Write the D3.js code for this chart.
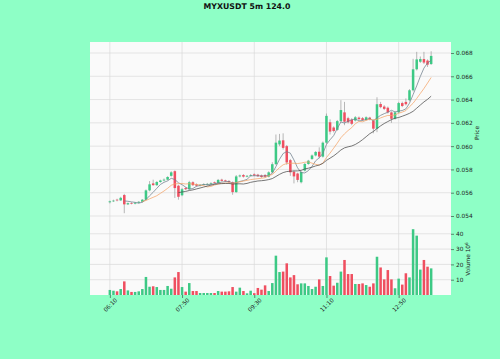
<!DOCTYPE html>
<html>
<head>
<meta charset="utf-8">
<script src="https://cdn.jsdelivr.net/npm/d3@7"></script>
<style>
  body { margin: 0; background: #8effc6; }
  svg { display: block; font-family: "DejaVu Sans", sans-serif; }
</style>
</head>
<body>
<svg id="chart" width="500" height="359"></svg>
<script>
// 5 minute candles, first one at 06:10
var startTime = "06:10";
var stepMinutes = 5;
var opens  = [.05518,.05526,.05540,.05534,.05580,.05500,.05512,.05506,.05514,.05522,
              .05540,.05620,.05680,.05665,.05692,.05705,.05712,.05745,.05785,.05660,
              .05578,.05640,.05630,.05690,.05672,.05660,.05668,.05670,.05676,.05690,
              .05684,.05712,.05706,.05700,.05690,.05605,.05740,.05752,.05738,.05745,
              .05758,.05755,.05748,.05752,.05738,.05775,.05845,.06015,.06050,.06000,
              .05880,.05780,.05765,.05690,.05790,.05847,.05890,.05920,.05952,.05910,
              .06030,.06205,.06160,.06140,.06215,.06290,.06240,.06228,.06220,.06245,
              .06240,.06225,.06245,.06220,.06150,.06362,.06340,.06330,.06290,.06235,
              .06290,.06370,.06380,.06395,.06480,.06660,.06725,.06748,.06735,.06705];
var highs  = [.05532,.05540,.05548,.05565,.05590,.05516,.05518,.05520,.05528,.05546,
              .05628,.05700,.05712,.05700,.05712,.05722,.05742,.05785,.05792,.05668,
              .05640,.05648,.05702,.05698,.05680,.05674,.05680,.05684,.05690,.05696,
              .05718,.05720,.05712,.05708,.05696,.05752,.05756,.05760,.05752,.05760,
              .05766,.05762,.05756,.05760,.05784,.05862,.06100,.06105,.06110,.06010,
              .05890,.05792,.05772,.05785,.05855,.05882,.05928,.05958,.05990,.06040,
              .06280,.06230,.06170,.06225,.06395,.06380,.06252,.06240,.06258,.06255,
              .06250,.06256,.06252,.06230,.06420,.06380,.06352,.06340,.06300,.06298,
              .06380,.06382,.06410,.06490,.06750,.06810,.06770,.06810,.06745,.06815];
var lows   = [.05508,.05520,.05526,.05530,.05424,.05494,.05500,.05500,.05508,.05516,
              .05536,.05612,.05660,.05658,.05686,.05698,.05706,.05738,.05555,.05540,
              .05570,.05622,.05625,.05658,.05652,.05654,.05662,.05664,.05670,.05678,
              .05680,.05696,.05692,.05684,.05582,.05600,.05732,.05730,.05732,.05740,
              .05742,.05736,.05728,.05730,.05732,.05768,.05840,.06000,.05970,.05840,
              .05745,.05680,.05690,.05680,.05782,.05840,.05882,.05912,.05895,.05902,
              .06020,.06100,.06118,.06132,.06208,.06180,.06195,.06180,.06212,.06225,
              .06218,.06218,.06222,.06110,.06120,.06325,.06310,.06280,.06200,.06228,
              .06282,.06335,.06350,.06385,.06470,.06650,.06715,.06705,.06680,.06698];
var closes = [.05526,.05532,.05534,.05556,.05500,.05510,.05506,.05514,.05522,.05540,
              .05620,.05672,.05665,.05692,.05705,.05712,.05735,.05775,.05640,.05565,
              .05630,.05630,.05690,.05665,.05660,.05668,.05674,.05676,.05682,.05684,
              .05710,.05702,.05698,.05690,.05605,.05740,.05748,.05738,.05745,.05752,
              .05748,.05742,.05735,.05738,.05775,.05845,.06030,.06048,.05985,.05860,
              .05775,.05740,.05710,.05778,.05847,.05875,.05920,.05950,.05910,.06030,
              .06260,.06125,.06130,.06215,.06310,.06210,.06205,.06192,.06248,.06232,
              .06225,.06248,.06230,.06150,.06360,.06335,.06320,.06290,.06235,.06290,
              .06370,.06345,.06360,.06480,.06660,.06745,.06748,.06718,.06700,.06775];
// volume in millions
var volumes = [3.3,2.8,2.4,3.9,8.9,3.0,2.0,2.0,2.4,3.9,
               11.8,5.4,5.7,5.2,3.3,3.3,5.9,4.1,11.5,15.0,
               5.2,2.2,7.8,2.6,2.6,1.3,1.3,1.3,1.3,1.3,
               2.6,2.2,2.2,2.4,5.2,2.2,4.8,2.6,1.1,2.8,
               1.2,4.6,3.5,6.3,2.6,7.8,25.7,15.0,15.3,20.7,
               11.5,13.0,7.0,7.6,7.6,5.9,3.9,5.4,10.2,5.9,
               24.6,12.4,6.1,8.0,15.3,22.9,13.7,13.7,7.2,7.2,
               7.6,6.5,5.4,7.6,25.0,18.0,10.2,16.3,10.2,4.4,
               10.7,6.8,14.2,11.5,43.0,38.8,16.6,22.9,18.5,17.4];
var mavPeriods = [5, 10, 20];
var mavColors = ["#6f7f8c", "#f4a468", "#4b4b4b"];
var tickLabels = ["06:10", "07:50", "09:30", "11:10", "12:50"];
var priceTicks = [0.054, 0.056, 0.058, 0.060, 0.062, 0.064, 0.066, 0.068];
var volTicks = [10, 20, 30, 40];
var title = "MYXUSDT 5m 124.0";

var upColor = "#3dc985", downColor = "#ef4f60", wickColor = "#8a8a8a";
var left = 90, right = 451, priceTop = 42, split = 224, bottom = 295;
var n = closes.length;

var svg = d3.select("#chart");

var parseT = d3.timeParse("%H:%M"), fmtT = d3.timeFormat("%H:%M");
var t0 = parseT(startTime);
var times = d3.range(n).map(function(i){ return fmtT(d3.timeMinute.offset(t0, i * stepMinutes)); });
var tickIdx = tickLabels.map(function(l){ return times.indexOf(l); });

var x = d3.scaleLinear().domain([-5.5, n + 4.5]).range([left, right]);
var yP = d3.scaleLinear().domain([0.053313, 0.068945]).range([split, priceTop]);
var yV = d3.scaleLinear().domain([0, 46.4]).range([bottom, split]);
var slot = x(1) - x(0);

// panels
svg.append("rect").attr("x", left).attr("y", priceTop)
   .attr("width", right - left).attr("height", bottom - priceTop).attr("fill", "#fafafa");

var grid = svg.append("g").attr("stroke", "#dadada").attr("stroke-width", 0.7);
grid.selectAll(".gx").data(tickIdx).enter().append("line")
   .attr("x1", function(d){ return x(d); }).attr("x2", function(d){ return x(d); })
   .attr("y1", priceTop).attr("y2", bottom);
grid.selectAll(".gp").data(priceTicks).enter().append("line")
   .attr("x1", left).attr("x2", right)
   .attr("y1", function(d){ return yP(d); }).attr("y2", function(d){ return yP(d); });
grid.selectAll(".gv").data(volTicks).enter().append("line")
   .attr("x1", left).attr("x2", right)
   .attr("y1", function(d){ return yV(d); }).attr("y2", function(d){ return yV(d); });

// candles
var bodyW = slot * 0.7;
var candles = svg.append("g");
candles.selectAll("line").data(d3.range(n)).enter().append("line")
   .attr("x1", function(i){ return x(i); }).attr("x2", function(i){ return x(i); })
   .attr("y1", function(i){ return yP(highs[i]); }).attr("y2", function(i){ return yP(lows[i]); })
   .attr("stroke", wickColor).attr("stroke-width", 0.6);
candles.selectAll("rect").data(d3.range(n)).enter().append("rect")
   .attr("x", function(i){ return x(i) - bodyW / 2; })
   .attr("width", bodyW)
   .attr("y", function(i){ return yP(Math.max(opens[i], closes[i])); })
   .attr("height", function(i){ return Math.max(0.6, Math.abs(yP(opens[i]) - yP(closes[i]))); })
   .attr("fill", function(i){ return closes[i] >= opens[i] ? upColor : downColor; });

// moving averages
mavPeriods.forEach(function(p, k){
  var pts = d3.range(p - 1, n).map(function(i){
    return [i, d3.mean(closes.slice(i - p + 1, i + 1))];
  });
  svg.append("path").datum(pts)
     .attr("fill", "none").attr("stroke", mavColors[k]).attr("stroke-width", 0.75)
     .attr("d", d3.line().x(function(d){ return x(d[0]); }).y(function(d){ return yP(d[1]); }));
});

// volume
var volW = slot * 0.7;
svg.append("g").selectAll("rect").data(d3.range(n)).enter().append("rect")
   .attr("x", function(i){ return x(i) - volW / 2; })
   .attr("width", volW)
   .attr("y", function(i){ return yV(volumes[i]); })
   .attr("height", function(i){ return yV(0) - yV(volumes[i]); })
   .attr("fill", function(i){ return closes[i] >= opens[i] ? upColor : downColor; });

// axes
function styleAxis(g){
  g.select(".domain").remove();
  g.selectAll(".tick line").attr("stroke", "#333").attr("stroke-width", 0.6);
  g.selectAll(".tick text").attr("fill", "#222").style("font-size", "5.8px")
   .style("font-family", "DejaVu Sans, sans-serif");
}
svg.append("g").attr("transform", "translate(" + right + ",0)")
   .call(d3.axisRight(yP).tickValues(priceTicks).tickFormat(d3.format(".3f")).tickSize(3).tickPadding(2))
   .call(styleAxis);
svg.append("g").attr("transform", "translate(" + right + ",0)")
   .call(d3.axisRight(yV).tickValues(volTicks).tickFormat(d3.format("d")).tickSize(3).tickPadding(2))
   .call(styleAxis);
var xa = svg.append("g").attr("transform", "translate(0," + bottom + ")")
   .call(d3.axisBottom(x).tickValues(tickIdx).tickFormat(function(d, i){ return tickLabels[i]; }).tickSize(3))
   .call(styleAxis);
xa.selectAll(".tick text")
   .attr("y", 0).attr("dy", "0.35em").attr("text-anchor", "middle")
   .attr("transform", "translate(0,10) rotate(-45)");

// labels
svg.append("text").attr("transform", "translate(479,133) rotate(-90)")
   .attr("text-anchor", "middle").attr("fill", "#222").style("font-size", "5.8px").text("Price");
var vl = svg.append("text").attr("transform", "translate(470,259) rotate(-90)")
   .attr("text-anchor", "middle").attr("fill", "#222").style("font-size", "5.8px");
vl.append("tspan").text("Volume  10");
vl.append("tspan").attr("dy", "-0.5em").style("font-size", "4.2px").text("6");

svg.append("text").attr("x", 247).attr("y", 8.5).attr("text-anchor", "middle")
   .style("font-size", "7.8px").style("font-weight", "bold").attr("fill", "#111").text(title);
</script>
</body>
</html>
